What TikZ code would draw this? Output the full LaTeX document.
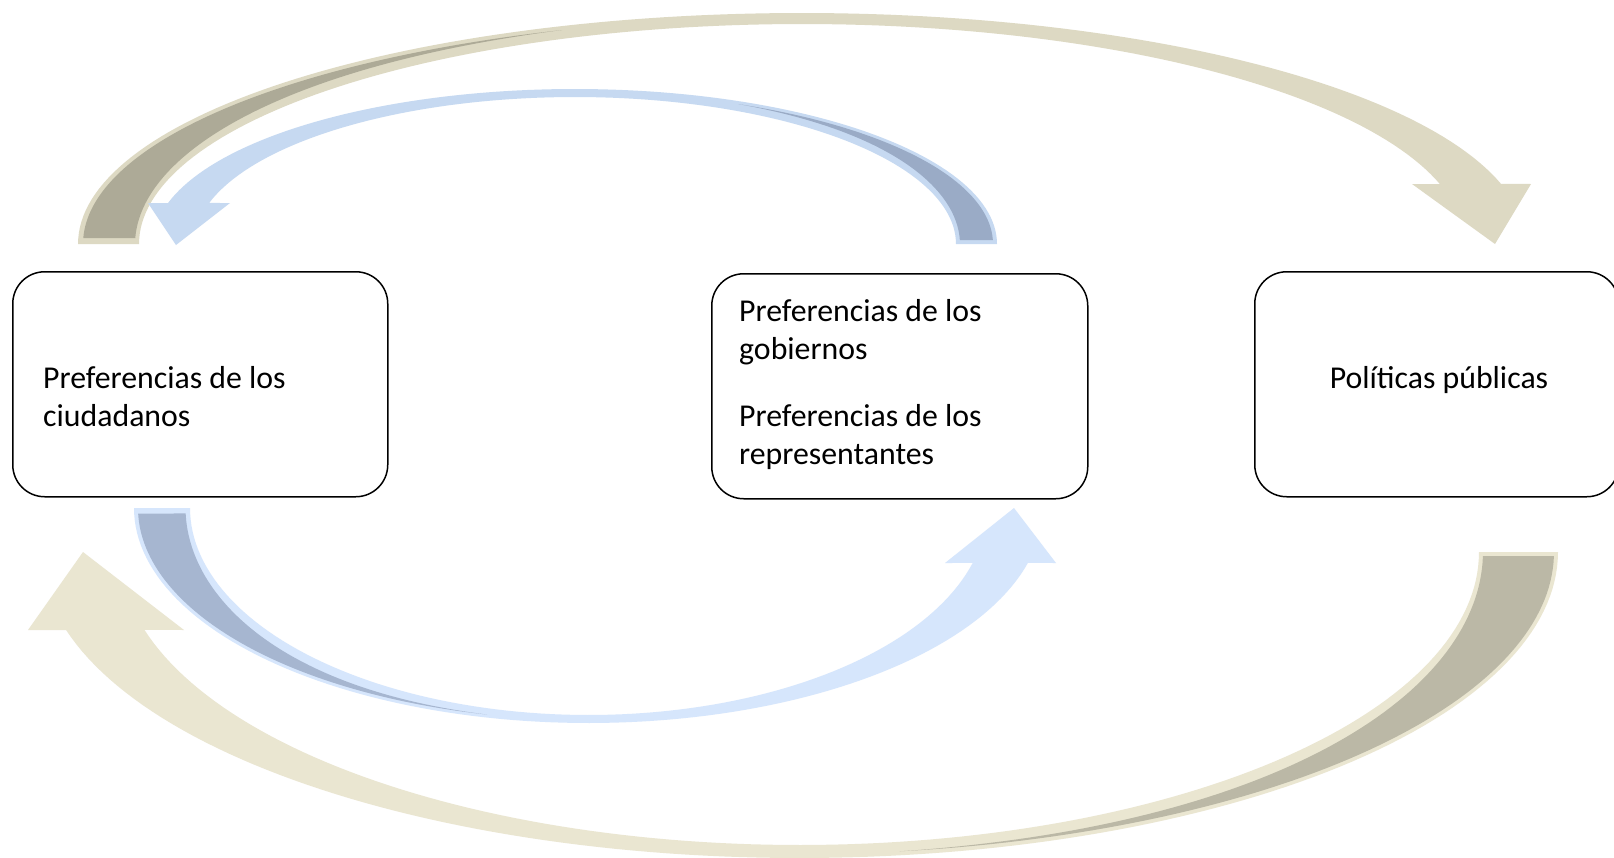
\documentclass[tikz,border=0pt]{standalone}
\usepackage{fontspec}
\setmainfont{Carlito}
\definecolor{tanbody}{HTML}{DDD9C3}
\definecolor{tandark}{HTML}{ADAA97}
\definecolor{tanbodyB}{HTML}{EAE6D1}
\definecolor{tandarkB}{HTML}{BBB8A6}
\definecolor{bluebody}{HTML}{C6D9F1}
\definecolor{bluedark}{HTML}{9AABC6}
\definecolor{bluebodyB}{HTML}{D6E6FC}
\definecolor{bluedarkB}{HTML}{A6B6D0}
\tikzset{
  box/.style={draw=black, line width=1.5pt, rounded corners=32pt, fill=white, inner sep=0pt, anchor=north west},
  txt/.style={font=\fontsize{31.8}{38}\selectfont, inner sep=0pt, anchor=base west}
}
\begin{document}
\begin{tikzpicture}[x=1pt,y=-1pt]
\useasboundingbox (0,0) rectangle (1614,857);
\fill[white] (0,0) rectangle (1614,857);

% arrow 1: outer top (tan)
\fill[tanbody] plot[domain=180:344.9,samples=120] ({802+724*cos(\x)},{244+231*sin(\x)})
  -- (1531,184) -- (1495,244) -- (1412,184)
  -- plot[domain=344.2:180,samples=120] ({802+663*cos(\x)},{244+220*sin(\x)}) -- cycle;
\fill[tandark] plot[domain=181.5:250.5,samples=70] ({802+719*cos(\x)},{244+227*sin(\x)})
  -- plot[domain=250.5:181.5,samples=70] ({802+(719-52*(1-((\x-181.5)/69)^2))*cos(\x)},{244+(227-5*(1-((\x-181.5)/69)^2))*sin(\x)}) -- cycle;

% arrow 2: inner top (blue)
\fill[bluebody] plot[domain=360:195.34,samples=100] ({575+422*cos(\x)},{244+155*sin(\x)})
  -- (148,203) -- (176,245) -- (230,203)
  -- plot[domain=196.2:360,samples=100] ({575+381*cos(\x)},{244+147*sin(\x)}) -- cycle;
\fill[bluedark] plot[domain=358.5:293,samples=70] ({575+418*cos(\x)},{244+152*sin(\x)})
  -- plot[domain=293:358.5,samples=70] ({575+(418-33*(1-((358.5-\x)/65.5)^2))*cos(\x)},{244+(152-3*(1-((358.5-\x)/65.5)^2))*sin(\x)}) -- cycle;

% arrow 3: inner bottom (blue)
\fill[bluebodyB] plot[domain=180:14.8,samples=100] ({588.5+454.5*cos(\x)},{508+215*sin(\x)})
  -- (1056,563) -- (1014,508) -- (945,563)
  -- plot[domain=15.4:180,samples=100] ({588.5+398.5*cos(\x)},{508+207*sin(\x)}) -- cycle;
\fill[bluedarkB] plot[domain=178.5:103,samples=70] ({588.5+450.5*cos(\x)},{508+212*sin(\x)})
  -- plot[domain=103:178.5,samples=70] ({588.5+(450.5-47.5*(1-((178.5-\x)/75.5)^2))*cos(\x)},{508+(212-3*(1-((178.5-\x)/75.5)^2))*sin(\x)}) -- cycle;

% arrow 4: outer bottom (tan)
\fill[tanbodyB] plot[domain=0:165.2,samples=120] ({799.5+758.5*cos(\x)},{552+306*sin(\x)})
  -- (28,630) -- (83,552) -- (184,630)
  -- plot[domain=164.6:0,samples=120] ({799.5+679.5*cos(\x)},{552+293*sin(\x)}) -- cycle;
\fill[tandarkB] plot[domain=0.8:82.4,samples=70] ({799.5+754.5*cos(\x)},{552+302*sin(\x)})
  -- plot[domain=82.4:0.8,samples=70] ({799.5+(754.5-71*(1-((\x-0.8)/81.6)^2))*cos(\x)},{552+(302-6*(1-((\x-0.8)/81.6)^2))*sin(\x)}) -- cycle;

% boxes
\node[box, minimum width=375pt, minimum height=225pt] (b1) at (12,271) {};
\node[box, minimum width=376pt, minimum height=225pt] (b2) at (711,273) {};
\node[box, minimum width=364pt, minimum height=225pt] (b3) at (1254,271) {};

% texts
\node[txt] (t1a) at (43,388) {Preferencias de los};
\node[txt] (t1b) at (43,426) {ciudadanos};
\node[txt] (t2a) at (739,321) {Preferencias de los};
\node[txt] (t2b) at (739,359) {gobiernos};
\node[txt] (t2c) at (739,426) {Preferencias de los};
\node[txt] (t2d) at (739,464) {representantes};
\node[txt, anchor=base] (t3) at (1439,388) {Políticas públicas};
\end{tikzpicture}
\end{document}
